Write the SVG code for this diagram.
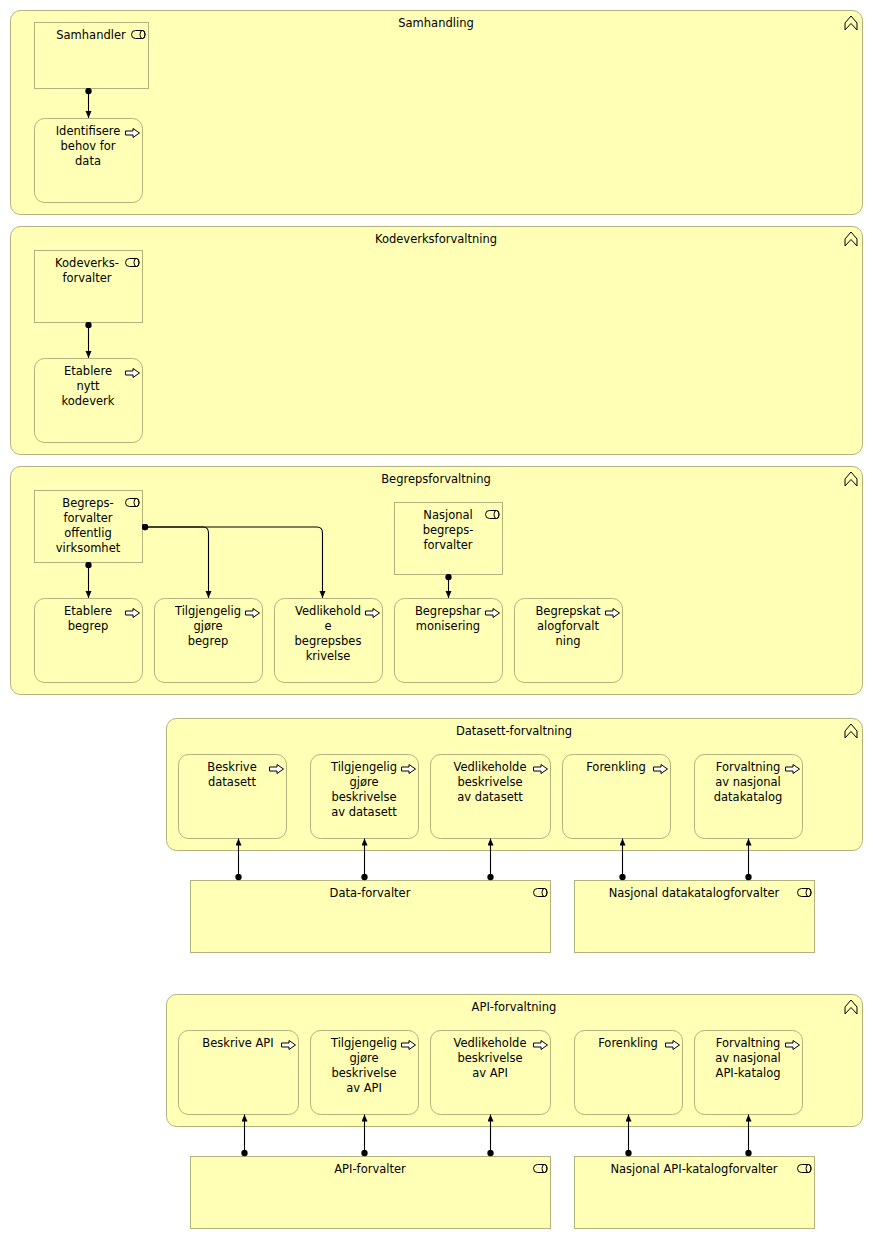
<svg xmlns="http://www.w3.org/2000/svg" xmlns:xlink="http://www.w3.org/1999/xlink" width="873" height="1239" viewBox="0 0 873 1239">
<style>
.grp{fill:#ffffb5;stroke:#b2b27e;stroke-width:1}
.nd{fill:#ffffb5;stroke:#b2b27e;stroke-width:1}
.t{font-family:"DejaVu Sans",sans-serif;font-size:11.5px;fill:#000;text-anchor:middle}
.ic{fill:none;stroke:#000;stroke-width:1}
.pic{fill:#ffffff;stroke:#000;stroke-width:1}
.cn{fill:none;stroke:#000;stroke-width:1.1;marker-start:url(#dot);marker-end:url(#arr)}
</style>
<defs>
<marker id="arr" markerUnits="userSpaceOnUse" markerWidth="8" markerHeight="7" refX="7" refY="3" orient="auto" viewBox="0 0 8 7"><path d="M0,0 L7,3 L0,6 Z" fill="#000"/></marker>
<marker id="dot" markerUnits="userSpaceOnUse" markerWidth="7" markerHeight="7" refX="3.5" refY="3.5" viewBox="0 0 7 7"><circle cx="3.5" cy="3.5" r="3.2" fill="#000"/></marker>
<g id="role"><path class="ic" d="M4,0 H11 A2.5,4 0 0 1 11,8 H4 A4,4 0 0 1 4,0 Z"/><ellipse class="ic" cx="11" cy="4" rx="2.5" ry="4"/></g>
<g id="proc"><path class="pic" d="M0.5,2.5 H8 V0 L14.5,4.5 L8,9 V6.5 H0.5 Z"/></g>
<g id="chev"><path class="ic" d="M0,14 V7 L6,0 L12,7 V14 L6,7.5 Z"/></g>
</defs>

<g id="grp-samhandling">
<rect class="grp" x="10.5" y="10.5" width="852" height="204" rx="10"/>
<text class="t" x="436" y="27">Samhandling</text>
<use xlink:href="#chev" x="845" y="16"/>
</g>
<g id="grp-kodeverk">
<rect class="grp" x="10.5" y="226.5" width="852" height="228" rx="10"/>
<text class="t" x="436" y="243">Kodeverksforvaltning</text>
<use xlink:href="#chev" x="845" y="232"/>
</g>
<g id="grp-begrep">
<rect class="grp" x="10.5" y="466.5" width="852" height="228" rx="10"/>
<text class="t" x="436" y="483">Begrepsforvaltning</text>
<use xlink:href="#chev" x="845" y="472"/>
</g>
<g id="grp-datasett">
<rect class="grp" x="166.5" y="718.5" width="696" height="132" rx="10"/>
<text class="t" x="514" y="735">Datasett-forvaltning</text>
<use xlink:href="#chev" x="845" y="724"/>
</g>
<g id="grp-api">
<rect class="grp" x="166.5" y="994.5" width="696" height="132" rx="10"/>
<text class="t" x="514" y="1011">API-forvaltning</text>
<use xlink:href="#chev" x="845" y="1000"/>
</g>

<!-- Samhandling -->
<g id="samhandler">
<rect class="nd" x="34.5" y="22.5" width="114" height="66"/>
<text class="t" x="91" y="39">Samhandler</text>
<use xlink:href="#role" x="131.5" y="30.5"/>
</g>
<g id="identifisere">
<rect class="nd" x="34.5" y="118.5" width="108" height="84" rx="10"/>
<text class="t" x="88" y="135">Identifisere</text>
<text class="t" x="88" y="150">behov for</text>
<text class="t" x="88" y="165">data</text>
<use xlink:href="#proc" x="125" y="128.5"/>
</g>

<!-- Kodeverk -->
<g id="kodeverksforvalter">
<rect class="nd" x="34.5" y="250.5" width="108" height="72"/>
<text class="t" x="87" y="267">Kodeverks-</text>
<text class="t" x="87" y="282">forvalter</text>
<use xlink:href="#role" x="125.5" y="258.5"/>
</g>
<g id="etablere-kodeverk">
<rect class="nd" x="34.5" y="358.5" width="108" height="84" rx="10"/>
<text class="t" x="88" y="375">Etablere</text>
<text class="t" x="88" y="390">nytt</text>
<text class="t" x="88" y="405">kodeverk</text>
<use xlink:href="#proc" x="125" y="368.5"/>
</g>

<!-- Begrep -->
<g id="begrepsforvalter">
<rect class="nd" x="34.5" y="490.5" width="108" height="72"/>
<text class="t" x="88" y="507">Begreps-</text>
<text class="t" x="88" y="522">forvalter</text>
<text class="t" x="88" y="537">offentlig</text>
<text class="t" x="88" y="552">virksomhet</text>
<use xlink:href="#role" x="125.5" y="498.5"/>
</g>
<g id="nasjonal-begrepsforvalter">
<rect class="nd" x="394.5" y="502.5" width="108" height="72"/>
<text class="t" x="448" y="519">Nasjonal</text>
<text class="t" x="448" y="534">begreps-</text>
<text class="t" x="448" y="549">forvalter</text>
<use xlink:href="#role" x="485.5" y="510.5"/>
</g>
<g id="etablere-begrep">
<rect class="nd" x="34.5" y="598.5" width="108" height="84" rx="10"/>
<text class="t" x="88" y="615">Etablere</text>
<text class="t" x="88" y="630">begrep</text>
<use xlink:href="#proc" x="125" y="608.5"/>
</g>
<g id="tilgjengeliggjore-begrep">
<rect class="nd" x="154.5" y="598.5" width="108" height="84" rx="10"/>
<text class="t" x="208" y="615">Tilgjengelig</text>
<text class="t" x="208" y="630">gjøre</text>
<text class="t" x="208" y="645">begrep</text>
<use xlink:href="#proc" x="245" y="608.5"/>
</g>
<g id="vedlikehold-begrep">
<rect class="nd" x="274.5" y="598.5" width="108" height="84" rx="10"/>
<text class="t" x="328" y="615">Vedlikehold</text>
<text class="t" x="328" y="630">e</text>
<text class="t" x="328" y="645">begrepsbes</text>
<text class="t" x="328" y="660">krivelse</text>
<use xlink:href="#proc" x="365" y="608.5"/>
</g>
<g id="begrepsharmonisering">
<rect class="nd" x="394.5" y="598.5" width="108" height="84" rx="10"/>
<text class="t" x="448" y="615">Begrepshar</text>
<text class="t" x="448" y="630">monisering</text>
<use xlink:href="#proc" x="485" y="608.5"/>
</g>
<g id="begrepskatalogforvaltning">
<rect class="nd" x="514.5" y="598.5" width="108" height="84" rx="10"/>
<text class="t" x="568" y="615">Begrepskat</text>
<text class="t" x="568" y="630">alogforvalt</text>
<text class="t" x="568" y="645">ning</text>
<use xlink:href="#proc" x="605" y="608.5"/>
</g>

<!-- Datasett -->
<g id="beskrive-datasett">
<rect class="nd" x="178.5" y="754.5" width="108" height="84" rx="10"/>
<text class="t" x="232" y="771">Beskrive</text>
<text class="t" x="232" y="786">datasett</text>
<use xlink:href="#proc" x="269" y="764.5"/>
</g>
<g id="tilgj-datasett">
<rect class="nd" x="310.5" y="754.5" width="108" height="84" rx="10"/>
<text class="t" x="364" y="771">Tilgjengelig</text>
<text class="t" x="364" y="786">gjøre</text>
<text class="t" x="364" y="801">beskrivelse</text>
<text class="t" x="364" y="816">av datasett</text>
<use xlink:href="#proc" x="401" y="764.5"/>
</g>
<g id="vedlikeholde-datasett">
<rect class="nd" x="430.5" y="754.5" width="120" height="84" rx="10"/>
<text class="t" x="490" y="771">Vedlikeholde</text>
<text class="t" x="490" y="786">beskrivelse</text>
<text class="t" x="490" y="801">av datasett</text>
<use xlink:href="#proc" x="533" y="764.5"/>
</g>
<g id="forenkling-datasett">
<rect class="nd" x="562.5" y="754.5" width="108" height="84" rx="10"/>
<text class="t" x="616" y="771">Forenkling</text>
<use xlink:href="#proc" x="653" y="764.5"/>
</g>
<g id="forvaltning-datakatalog">
<rect class="nd" x="694.5" y="754.5" width="108" height="84" rx="10"/>
<text class="t" x="748" y="771">Forvaltning</text>
<text class="t" x="748" y="786">av nasjonal</text>
<text class="t" x="748" y="801">datakatalog</text>
<use xlink:href="#proc" x="785" y="764.5"/>
</g>
<g id="data-forvalter">
<rect class="nd" x="190.5" y="880.5" width="360" height="72"/>
<text class="t" x="370" y="897">Data-forvalter</text>
<use xlink:href="#role" x="533.5" y="888.5"/>
</g>
<g id="nasjonal-datakatalogforvalter">
<rect class="nd" x="574.5" y="880.5" width="240" height="72"/>
<text class="t" x="694" y="897">Nasjonal datakatalogforvalter</text>
<use xlink:href="#role" x="797.5" y="888.5"/>
</g>

<!-- API -->
<g id="beskrive-api">
<rect class="nd" x="178.5" y="1030.5" width="120" height="84" rx="10"/>
<text class="t" x="238" y="1047">Beskrive API</text>
<use xlink:href="#proc" x="281" y="1040.5"/>
</g>
<g id="tilgj-api">
<rect class="nd" x="310.5" y="1030.5" width="108" height="84" rx="10"/>
<text class="t" x="364" y="1047">Tilgjengelig</text>
<text class="t" x="364" y="1062">gjøre</text>
<text class="t" x="364" y="1077">beskrivelse</text>
<text class="t" x="364" y="1092">av API</text>
<use xlink:href="#proc" x="401" y="1040.5"/>
</g>
<g id="vedlikeholde-api">
<rect class="nd" x="430.5" y="1030.5" width="120" height="84" rx="10"/>
<text class="t" x="490" y="1047">Vedlikeholde</text>
<text class="t" x="490" y="1062">beskrivelse</text>
<text class="t" x="490" y="1077">av API</text>
<use xlink:href="#proc" x="533" y="1040.5"/>
</g>
<g id="forenkling-api">
<rect class="nd" x="574.5" y="1030.5" width="108" height="84" rx="10"/>
<text class="t" x="628" y="1047">Forenkling</text>
<use xlink:href="#proc" x="665" y="1040.5"/>
</g>
<g id="forvaltning-apikatalog">
<rect class="nd" x="694.5" y="1030.5" width="108" height="84" rx="10"/>
<text class="t" x="748" y="1047">Forvaltning</text>
<text class="t" x="748" y="1062">av nasjonal</text>
<text class="t" x="748" y="1077">API-katalog</text>
<use xlink:href="#proc" x="785" y="1040.5"/>
</g>
<g id="api-forvalter">
<rect class="nd" x="190.5" y="1156.5" width="360" height="72"/>
<text class="t" x="370" y="1173">API-forvalter</text>
<use xlink:href="#role" x="533.5" y="1164.5"/>
</g>
<g id="nasjonal-apikatalogforvalter">
<rect class="nd" x="574.5" y="1156.5" width="240" height="72"/>
<text class="t" x="694" y="1173">Nasjonal API-katalogforvalter</text>
<use xlink:href="#role" x="797.5" y="1164.5"/>
</g>

<g id="connectors">
<path class="cn" d="M88.5,91 V118"/>
<path class="cn" d="M88.5,325 V358"/>
<path class="cn" d="M88.5,565 V598"/>
<path class="cn" d="M145,527 H203 Q208.5,527 208.5,533 V598"/>
<path class="cn" d="M145,527 H317 Q322.5,527 322.5,533 V598"/>
<path class="cn" d="M448.5,577 V598"/>
<path class="cn" d="M238.5,877 V838.5"/>
<path class="cn" d="M364.5,877 V838.5"/>
<path class="cn" d="M490.5,877 V838.5"/>
<path class="cn" d="M622.5,877 V838.5"/>
<path class="cn" d="M748.5,877 V838.5"/>
<path class="cn" d="M244.5,1153 V1114.5"/>
<path class="cn" d="M364.5,1153 V1114.5"/>
<path class="cn" d="M490.5,1153 V1114.5"/>
<path class="cn" d="M628.5,1153 V1114.5"/>
<path class="cn" d="M748.5,1153 V1114.5"/>
</g>
</svg>
